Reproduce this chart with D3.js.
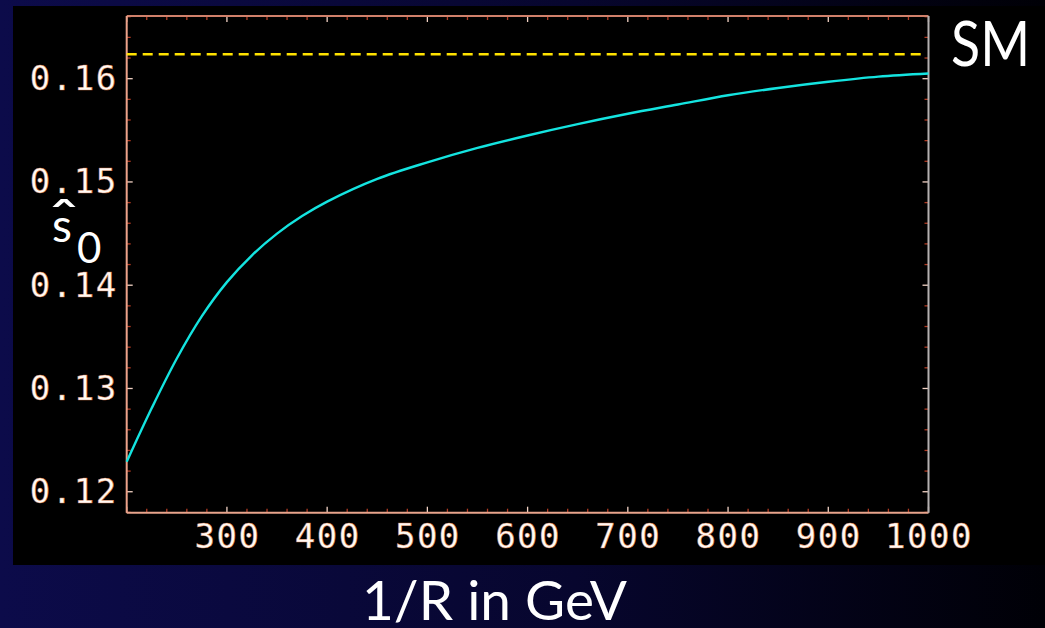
<!DOCTYPE html>
<html>
<head>
<meta charset="utf-8">
<script src="https://cdn.jsdelivr.net/npm/d3@7"></script>
<style>
  html, body { margin: 0; padding: 0; background: #000; }
  svg { display: block; }
</style>
</head>
<body>
<div id="chart"></div>
<script>
// values
const rInv = [200, 225, 250, 275, 300, 325, 350, 375, 400, 450, 500, 550, 600, 650, 700, 750, 800, 850, 900, 950, 1000]
const s0 = [0.1229, 0.1281, 0.1329, 0.1370, 0.1403, 0.1429, 0.1450, 0.1467, 0.1481, 0.1503, 0.1519, 0.1533, 0.1545, 0.1556, 0.1566, 0.1575, 0.1584, 0.1591, 0.1597, 0.1602, 0.1605]
const smValue = 0.16236
const xTickVals = [300, 400, 500, 600, 700, 800, 900, 1000]
const yTickVals = [0.12, 0.13, 0.14, 0.15, 0.16]
const yTickLabels = ['0.12', '0.13', '0.14', '0.15', '0.16']

const W = 1045, H = 628
const pl = { l: 126.7, r: 928.5, t: 16, b: 512.7 } // plot frame

const svg = d3.select('#chart').append('svg')
    .attr('width', W)
    .attr('height', H)

// navy backdrop of the slide
const grad = svg.append('defs').append('linearGradient')
    .attr('id', 'bg').attr('x1', 0).attr('x2', 1).attr('y1', 0).attr('y2', 0)
grad.append('stop').attr('offset', '0%').attr('stop-color', '#0c0b4a')
grad.append('stop').attr('offset', '55%').attr('stop-color', '#07062e')
grad.append('stop').attr('offset', '100%').attr('stop-color', '#000006')
svg.append('rect').attr('width', W).attr('height', H).attr('fill', 'url(#bg)')

// black picture panel
svg.append('rect')
    .attr('x', 13).attr('y', 6)
    .attr('width', W - 13).attr('height', 559)
    .attr('fill', '#000')

const x = d3.scaleLinear().domain([200, 1000]).range([pl.l, pl.r])
const y = d3.scaleLinear().domain([0.11797, 0.16607]).range([pl.b, pl.t])

const g = svg.append('g')

// minor + major ticks on all four sides, pointing inward
const xMinor = d3.range(200, 1001, 20)
const yMinor = d3.range(0.118, 0.1661, 0.002)
const minorCol = '#b03a22', majorCol = '#f2d2c4'

xMinor.forEach(v => {
    const major = v % 100 === 0
    const len = major ? 6 : 4
    g.append('line').attr('x1', x(v)).attr('x2', x(v))
        .attr('y1', pl.b).attr('y2', pl.b - len)
        .attr('stroke', major ? majorCol : minorCol).attr('stroke-width', 1.3)
    g.append('line').attr('x1', x(v)).attr('x2', x(v))
        .attr('y1', pl.t).attr('y2', pl.t + len)
        .attr('stroke', major ? majorCol : minorCol).attr('stroke-width', 1.3)
})
yMinor.forEach(v => {
    const major = Math.abs(v * 100 - Math.round(v * 100)) < 1e-6
    const len = major ? 6 : 4
    g.append('line').attr('y1', y(v)).attr('y2', y(v))
        .attr('x1', pl.l).attr('x2', pl.l + len)
        .attr('stroke', major ? majorCol : minorCol).attr('stroke-width', 1.3)
    g.append('line').attr('y1', y(v)).attr('y2', y(v))
        .attr('x1', pl.r).attr('x2', pl.r - len)
        .attr('stroke', major ? majorCol : minorCol).attr('stroke-width', 1.3)
})

// frame
g.append('line').attr('x1', pl.l).attr('x2', pl.r).attr('y1', pl.t).attr('y2', pl.t)
    .attr('stroke', '#d0806a').attr('stroke-width', 2)
g.append('line').attr('x1', pl.l).attr('x2', pl.r).attr('y1', pl.b).attr('y2', pl.b)
    .attr('stroke', '#e8a48c').attr('stroke-width', 2)
g.append('line').attr('x1', pl.l).attr('x2', pl.l).attr('y1', pl.t).attr('y2', pl.b)
    .attr('stroke', '#eca28a').attr('stroke-width', 2)
g.append('line').attr('x1', pl.r).attr('x2', pl.r).attr('y1', pl.t).attr('y2', pl.b)
    .attr('stroke', '#b4b0b0').attr('stroke-width', 2)

// tick labels through d3 axes
const labelStyle = sel => sel.selectAll('text')
    .attr('fill', '#fffaf4')
    .attr('stroke', '#d87a4c')
    .attr('stroke-width', 0.6)
    .attr('stroke-opacity', 0.85)
    .style('font-family', '"DejaVu Sans Mono", monospace')
    .style('font-size', '34px')
    .style('letter-spacing', '1.5px')

const xAxis = g.append('g')
    .attr('transform', `translate(0,${pl.b})`)
    .call(d3.axisBottom(x).tickValues(xTickVals).tickSize(0).tickPadding(12).tickFormat(d3.format('d')))
xAxis.select('.domain').remove()
xAxis.call(labelStyle)
xAxis.selectAll('text').attr('dy', '0.71em').attr('y', 11)

const yAxis = g.append('g')
    .attr('transform', `translate(${pl.l},0)`)
    .call(d3.axisLeft(y).tickValues(yTickVals).tickSize(0).tickPadding(9)
        .tickFormat((d, i) => yTickLabels[i]))
yAxis.select('.domain').remove()
yAxis.call(labelStyle)

// SM reference (dashed)
g.append('line')
    .attr('x1', x(200)).attr('x2', x(1000) - 6)
    .attr('y1', y(smValue)).attr('y2', y(smValue))
    .attr('stroke', '#ffe200')
    .attr('stroke-width', 2.6)
    .attr('stroke-dasharray', '10,6')

// curve
const line = d3.line()
    .x((d, i) => x(rInv[i]))
    .y(d => y(d))
    .curve(d3.curveCatmullRom.alpha(0.5))

g.append('path')
    .datum(s0)
    .attr('d', line)
    .attr('fill', 'none')
    .attr('stroke', '#14e4e0')
    .attr('stroke-width', 2.4)

// labels
svg.append('text')
    .attr('x', 951).attr('y', 66)
    .attr('textLength', 79).attr('lengthAdjust', 'spacingAndGlyphs')
    .attr('fill', '#fff')
    .style('font-family', 'Lato, "Open Sans", sans-serif')
    .style('font-size', '62px')
    .text('SM')

svg.append('text')
    .attr('x', 362).attr('y', 620)
    .attr('textLength', 265).attr('lengthAdjust', 'spacingAndGlyphs')
    .attr('fill', '#fff')
    .style('font-family', 'Lato, "Open Sans", sans-serif')
    .style('font-size', '54px')
    .text('1/R in GeV')

// ŝ0 axis symbol: s, a wide hat above it, subscript 0
const sym = svg.append('g').attr('fill', '#fff')
    .style('font-family', 'Lato, "Open Sans", sans-serif')
sym.append('text').attr('x', 52).attr('y', 242).style('font-size', '46px').text('s')
sym.append('text').attr('x', 49).attr('y', 242)
    .attr('textLength', 30).attr('lengthAdjust', 'spacingAndGlyphs')
    .style('font-size', '60px').text('ˆ')
sym.append('text').attr('x', 77).attr('y', 263).style('font-size', '42px').text('0')
</script>
</body>
</html>
